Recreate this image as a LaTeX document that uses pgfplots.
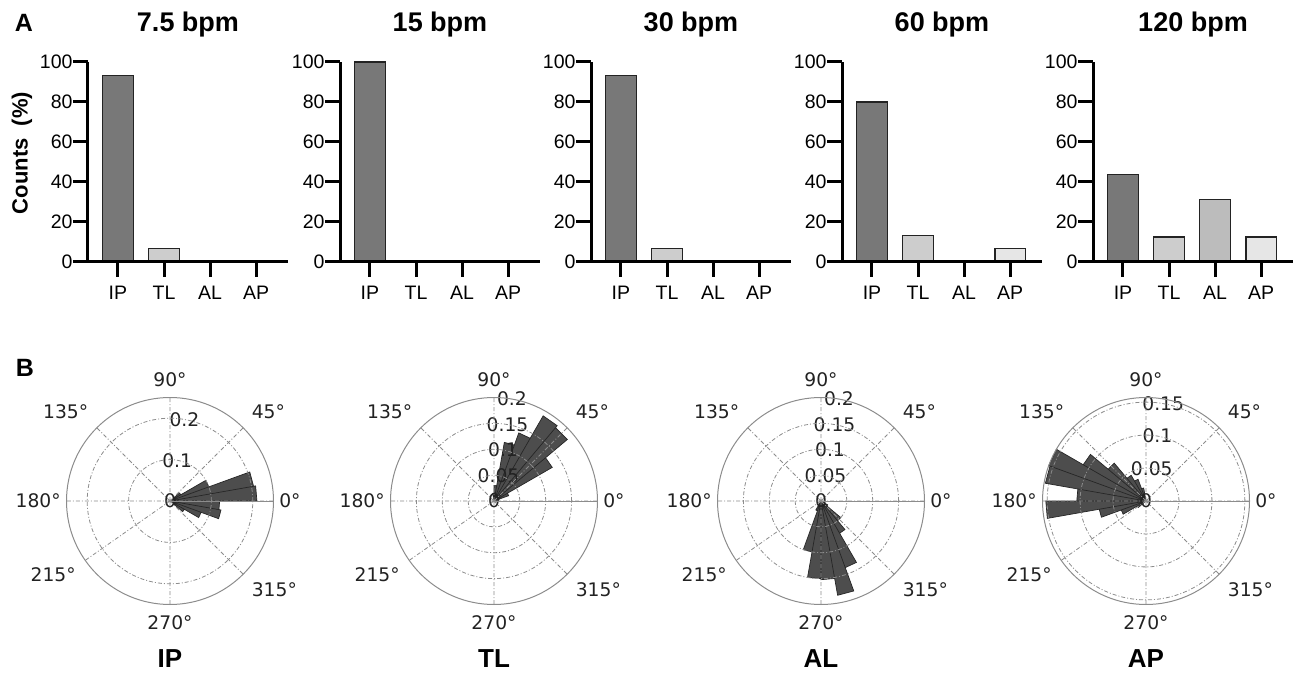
\documentclass[border=0pt]{standalone}
\usepackage{fontspec}
\setmainfont{Liberation Sans}
\newfontfamily\dejavu{DejaVu Sans}
\usepackage{pgfplots}
\pgfplotsset{compat=1.18}
\usepgfplotslibrary{polar}

\definecolor{barIP}{RGB}{120,120,120}
\definecolor{barTL}{RGB}{205,205,205}
\definecolor{barAL}{RGB}{188,188,188}
\definecolor{barAP}{RGB}{230,230,230}
\definecolor{edge}{RGB}{35,35,35}
\definecolor{rose}{RGB}{77,77,77}
\definecolor{gridgray}{RGB}{140,140,140}
\definecolor{labtxt}{RGB}{34,34,34}

\newcommand{\tickfont}{\fontsize{19.5}{22}\selectfont}
\newcommand{\polarfont}{\dejavu\fontsize{18.7}{22}\selectfont}
\tikzset{plab/.style={font=\polarfont, text=labtxt}}

% angle labels of a rose, set just outside its rim (#1 = radius for the labels)
\newcommand{\anglelabels}[1]{%
  \node[plab, anchor=west, xshift=-5pt] at (axis cs:0,#1) {0°};
  \node[plab, anchor=south west] at (axis cs:45,#1) {45°};
  \node[plab, anchor=south] at (axis cs:90,#1) {90°};
  \node[plab, anchor=south east] at (axis cs:135,#1) {135°};
  \node[plab, anchor=east, xshift=5pt] at (axis cs:180,#1) {180°};
  \node[plab, anchor=north east] at (axis cs:215,#1) {215°};
  \node[plab, anchor=north] at (axis cs:270,#1) {270°};
  \node[plab, anchor=north west] at (axis cs:315,#1) {315°};
}

\pgfplotsset{
  barpanel/.style={
    scale only axis, width=200pt, height=200pt,
    anchor=south west,
    xmin=-0.65, xmax=3.69, ymin=0, ymax=100,
    axis x line*=bottom, axis y line*=left,
    axis on top,
    axis line style={line width=3pt, black},
    xtick={0,1,2,3}, xticklabels={IP,TL,AL,AP},
    ytick={0,20,...,100},
    tick align=outside, major tick length=15pt,
    every tick/.style={line width=3pt, black},
    xticklabel style={font=\tickfont, yshift=-6pt},
    yticklabel style={font=\tickfont, xshift=3pt},
    /pgf/number format/assume math mode=true,
    title style={font=\fontsize{27}{30}\selectfont\bfseries,
      at={(0.5,1)}, anchor=base, yshift=24pt},
  },
  bar/.style={ybar, bar shift=0pt, bar width=0.67, draw=edge,
    line width=1.5pt, fill=#1},
  rosepanel/.style={
    scale only axis, width=207pt, height=207pt, anchor=center,
    ymin=0, clip=false,
    xtick={0,45,90,135,180,215,270,315},
    xticklabels={}, yticklabels={},
    grid=major,
    major grid style={draw=gridgray, line width=0.8pt,
      dash pattern=on 4pt off 2pt on 1pt off 2pt},
    axis line style={draw=gridgray, line width=1pt},
    major tick length=0pt,
    axis on top,
  },
  petals/.style={fill=rose, draw=black!85, line width=0.7pt},
}

\begin{document}
\begin{tikzpicture}
\path[use as bounding box] (0,0) rectangle (1304pt,673pt);

% ---- A: counts per pattern at each rate
\begin{axis}[barpanel, at={(88pt,411pt)}, title={7.5 bpm}]
  \addplot[bar=barIP] coordinates {(0,93.33)};
  \addplot[bar=barTL] coordinates {(1,6.67)};
  \addplot[bar=barAL] coordinates {(2,0)};
  \addplot[bar=barAP] coordinates {(3,0)};
\end{axis}
\begin{axis}[barpanel, at={(340pt,411pt)}, title={15 bpm}]
  \addplot[bar=barIP] coordinates {(0,100)};
  \addplot[bar=barTL] coordinates {(1,0)};
  \addplot[bar=barAL] coordinates {(2,0)};
  \addplot[bar=barAP] coordinates {(3,0)};
\end{axis}
\begin{axis}[barpanel, at={(591pt,411pt)}, title={30 bpm}]
  \addplot[bar=barIP] coordinates {(0,93.33)};
  \addplot[bar=barTL] coordinates {(1,6.67)};
  \addplot[bar=barAL] coordinates {(2,0)};
  \addplot[bar=barAP] coordinates {(3,0)};
\end{axis}
\begin{axis}[barpanel, at={(842pt,411pt)}, title={60 bpm}]
  \addplot[bar=barIP] coordinates {(0,80)};
  \addplot[bar=barTL] coordinates {(1,13.33)};
  \addplot[bar=barAL] coordinates {(2,0)};
  \addplot[bar=barAP] coordinates {(3,6.67)};
\end{axis}
\begin{axis}[barpanel, at={(1093pt,411pt)}, title={120 bpm}]
  \addplot[bar=barIP] coordinates {(0,43.75)};
  \addplot[bar=barTL] coordinates {(1,12.5)};
  \addplot[bar=barAL] coordinates {(2,31.25)};
  \addplot[bar=barAP] coordinates {(3,12.5)};
\end{axis}

\node[font=\fontsize{22}{26}\selectfont\bfseries, rotate=90] at (22pt,520pt) {Counts\ \ (\%)};
\node[font=\fontsize{25}{28}\selectfont\bfseries, anchor=base] at (24pt,641pt) {A};
\node[font=\fontsize{25}{28}\selectfont\bfseries, anchor=base] at (25pt,296pt) {B};

% ---- B: phase roses
\begin{polaraxis}[rosepanel, at={(170pt,172pt)}, ymax=0.25, ytick={0.1,0.2}]
  \addplot[petals] coordinates {
    (0,0) (320,0.04) (330,0.04) (0,0) (330,0.08) (340,0.08)
    (0,0) (340,0.125) (350,0.125) (0,0) (350,0.12) (360,0.12)
    (0,0) (0,0.21) (10,0.21) (0,0) (10,0.205) (20,0.205)
    (0,0) (20,0.10) (30,0.10) (0,0) (30,0.03) (40,0.03) (0,0)};
  \node[plab] at (axis cs:0,0) {0};
  \node[plab] at (axis cs:80,0.1) {0.1};
  \node[plab] at (axis cs:80,0.2) {0.2};
  \anglelabels{0.2675}
\end{polaraxis}

\begin{polaraxis}[rosepanel, at={(494pt,172pt)}, ymax=0.2, ytick={0.05,0.1,0.15}]
  \addplot[petals] coordinates {
    (0,0) (10,0.01) (20,0.01) (0,0) (20,0.03) (30,0.03)
    (0,0) (30,0.13) (40,0.13) (0,0) (40,0.185) (50,0.185)
    (0,0) (50,0.19) (60,0.19) (0,0) (60,0.14) (70,0.14)
    (0,0) (70,0.115) (80,0.115) (0,0) (80,0.03) (90,0.03)
    (0,0) (90,0.015) (100,0.015) (0,0)};
  \node[plab] at (axis cs:0,0) {0};
  \node[plab] at (axis cs:80,0.05) {0.05};
  \node[plab] at (axis cs:80,0.1) {0.1};
  \node[plab] at (axis cs:80,0.15) {0.15};
  \node[plab] at (axis cs:80,0.2) {0.2};
  \anglelabels{0.214}
\end{polaraxis}

\begin{polaraxis}[rosepanel, at={(821pt,172pt)}, ymax=0.2, ytick={0.05,0.1,0.15}]
  \addplot[petals] coordinates {
    (0,0) (240,0.02) (250,0.02) (0,0) (250,0.10) (260,0.10)
    (0,0) (260,0.15) (270,0.15) (0,0) (270,0.152) (280,0.152)
    (0,0) (280,0.185) (290,0.185) (0,0) (290,0.137) (300,0.137)
    (0,0) (300,0.072) (310,0.072) (0,0) (310,0.05) (320,0.05)
    (0,0) (320,0.015) (330,0.015) (0,0)};
  \node[plab] at (axis cs:0,0) {0};
  \node[plab] at (axis cs:80,0.05) {0.05};
  \node[plab] at (axis cs:80,0.1) {0.1};
  \node[plab] at (axis cs:80,0.15) {0.15};
  \node[plab] at (axis cs:80,0.2) {0.2};
  \anglelabels{0.214}
\end{polaraxis}

\begin{polaraxis}[rosepanel, at={(1146pt,172pt)}, ymax=0.157, ytick={0.05,0.1,0.15}]
  \addplot[petals] coordinates {
    (0,0) (100,0.02) (110,0.02) (0,0) (110,0.035) (120,0.035)
    (0,0) (120,0.045) (130,0.045) (0,0) (130,0.075) (140,0.075)
    (0,0) (140,0.11) (150,0.11) (0,0) (150,0.157) (160,0.157)
    (0,0) (160,0.155) (170,0.155) (0,0) (170,0.105) (180,0.105)
    (0,0) (180,0.152) (190,0.152) (0,0) (190,0.072) (200,0.072)
    (0,0) (200,0.04) (210,0.04) (0,0) (210,0.015) (220,0.015) (0,0)};
  \node[plab] at (axis cs:0,0) {0};
  \node[plab] at (axis cs:80,0.05) {0.05};
  \node[plab] at (axis cs:80,0.1) {0.1};
  \node[plab] at (axis cs:80,0.15) {0.15};
  \anglelabels{0.168}
\end{polaraxis}

\node[font=\fontsize{26}{30}\selectfont\bfseries, anchor=base] at (170pt,5.7pt) {IP};
\node[font=\fontsize{26}{30}\selectfont\bfseries, anchor=base] at (494pt,5.7pt) {TL};
\node[font=\fontsize{26}{30}\selectfont\bfseries, anchor=base] at (821pt,5.7pt) {AL};
\node[font=\fontsize{26}{30}\selectfont\bfseries, anchor=base] at (1146pt,5.7pt) {AP};
\end{tikzpicture}
\end{document}
